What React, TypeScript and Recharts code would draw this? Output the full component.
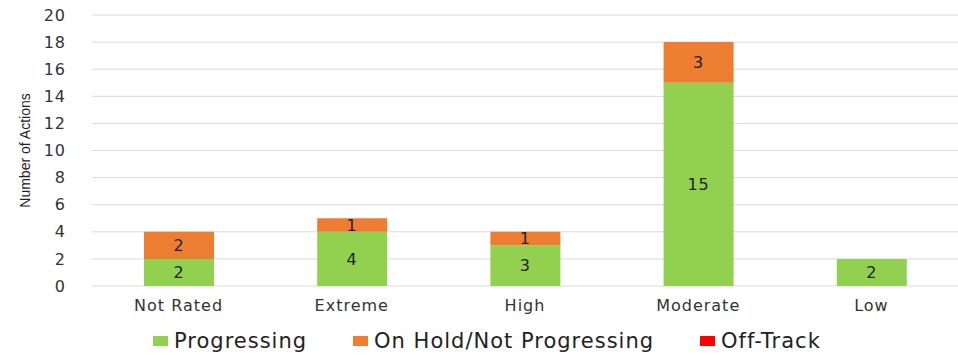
import React from 'react';
import { BarChart, Bar, XAxis, YAxis, CartesianGrid, LabelList } from 'recharts';

const categories = ['Not Rated', 'Extreme', 'High', 'Moderate', 'Low'];
const progressing = [2, 4, 3, 15, 2];
const onHold = [2, 1, 1, 3, 0];
const offTrack = [0, 0, 0, 0, 0];
const yTicks = [0, 2, 4, 6, 8, 10, 12, 14, 16, 18, 20];

const series = [
  { key: 'progressing', name: 'Progressing', color: '#92D050' },
  { key: 'onHold', name: 'On Hold/Not Progressing', color: '#ED7D31' },
  { key: 'offTrack', name: 'Off-Track', color: '#FF0000' },
];

const data = categories.map((c, i) => ({
  category: c,
  progressing: progressing[i],
  onHold: onHold[i],
  offTrack: offTrack[i],
}));

const font = "'DejaVu Sans', sans-serif";

// hide zero labels
const fmt = (v: any) => (v ? v : '');

const LegendRow = () => (
  <div
    style={{
      position: 'absolute',
      left: 153,
      top: 329,
      display: 'flex',
      gap: 46,
      fontFamily: font,
      fontSize: 21,
      letterSpacing: 1,
      color: '#222',
      whiteSpace: 'nowrap',
    }}
  >
    {series.map((s) => (
      <div key={s.key} style={{ display: 'flex', alignItems: 'center' }}>
        <span style={{ width: 15, height: 10, background: s.color, marginRight: 6, display: 'inline-block' }} />
        <span>{s.name}</span>
      </div>
    ))}
  </div>
);

export default function App() {
  return (
    <div style={{ position: 'absolute', left: 0, top: 0, width: 958, height: 355, background: '#fff' }}>
      <BarChart width={958} height={355} data={data} margin={{ top: 15, right: 0, bottom: 39, left: 4 }}>
        <CartesianGrid vertical={false} stroke="#d9d9d9" />
        <XAxis
          dataKey="category"
          axisLine={false}
          tickLine={false}
          tick={{ fontFamily: font, fontSize: 16, fill: '#333', letterSpacing: 1 }}
          tickMargin={8}
          height={30}
        />
        <YAxis
          domain={[0, 20]}
          ticks={yTicks}
          axisLine={false}
          tickLine={false}
          tick={{ fontFamily: font, fontSize: 16, fill: '#333', letterSpacing: 1 }}
          tickMargin={20}
          width={88}
          label={{
            value: 'Number of Actions',
            angle: -90,
            position: 'insideLeft',
            dx: 16,
            style: { fontFamily: "'Liberation Sans', sans-serif", fontSize: 14, fill: '#222', textAnchor: 'middle' },
          }}
        />
        {series.map((s) => (
          <Bar key={s.key} dataKey={s.key} name={s.name} stackId="a" fill={s.color} barSize={70} isAnimationActive={false}>
            {s.key !== 'offTrack' && (
              <LabelList
                dataKey={s.key}
                position="center"
                formatter={fmt}
                style={{ fontFamily: font, fontSize: 16, fill: '#222', letterSpacing: 1 }}
              />
            )}
          </Bar>
        ))}
      </BarChart>
      <LegendRow />
    </div>
  );
}
